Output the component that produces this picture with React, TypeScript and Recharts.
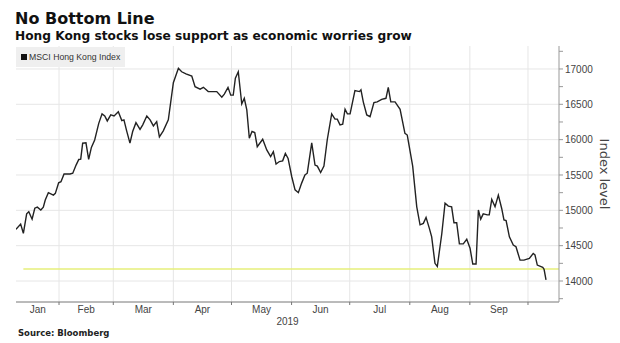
import { LineChart, Line, XAxis, YAxis, CartesianGrid, ReferenceLine } from "recharts";

// day of year 2019 (Jan 1 = 0) and MSCI Hong Kong Index closes
const days = [
  8.8, 11.2, 12.6, 14.3, 15.4, 17.1, 18.5, 19.8, 21.6, 22.9, 23.9, 25.5, 28.1, 29.1, 30.8,
  32.0, 33.6, 36.7, 38.1, 39.8, 41.2, 42.2, 43.2, 44.9, 46.3, 47.7, 49.4, 51.5, 53.2, 54.6,
  55.9, 57.7, 59.4, 61.6, 63.4, 64.5, 65.9, 67.6, 69.0, 70.7, 72.8, 74.2, 76.3, 78.0, 79.7,
  81.4, 82.8, 84.8, 87.4, 90.0, 92.6, 94.3, 96.5, 99.5, 101.2, 103.8, 105.5, 108.0, 112.4,
  115.0, 116.3, 118.2, 119.6, 120.9, 122.0, 123.5, 125.3, 126.6, 127.9, 129.2, 130.6, 132.0,
  133.3, 136.1, 138.2, 140.2, 141.6, 143.0, 144.7, 146.4, 147.8, 149.2, 151.1, 152.8, 154.5,
  156.2, 157.9, 159.1, 161.4, 163.1, 164.3, 166.0, 167.7, 169.4, 171.7, 173.4, 174.6, 176.0,
  177.4, 178.6, 179.8, 181.2, 183.7, 186.0, 186.8, 188.0, 189.8, 191.5, 193.5, 195.2, 197.5,
  199.7, 200.9, 202.2, 204.4, 207.0, 209.5, 210.7, 213.5, 215.6, 217.3, 219.0, 220.4, 222.1,
  223.3, 225.0, 226.2, 228.5, 230.2, 231.9, 233.6, 234.8, 236.2, 237.6, 239.6, 241.4, 243.1,
  244.5, 246.2, 247.4, 248.6, 249.9, 252.0, 253.0, 254.3, 256.0, 257.7, 259.4, 260.6, 261.7,
  263.4, 265.4, 266.8, 268.9, 270.9, 273.7, 275.7, 276.6, 277.8, 280.6, 281.3, 282.3,
];

const msciHK = [
  14730, 14805, 14675, 14950, 14980, 14875, 15030, 15045, 15005, 15045, 15145, 15250, 15215, 15240, 15390,
  15405, 15515, 15515, 15525, 15640, 15720, 15725, 15950, 15955, 15720, 15890, 15995, 16230, 16365, 16335,
  16265, 16350, 16335, 16395, 16270, 16280, 16125, 15950, 16115, 16240, 16145, 16210, 16335, 16280, 16195,
  16255, 16040, 16125, 16280, 16805, 17010, 16960, 16930, 16900, 16750, 16715, 16740, 16680, 16680,
  16600, 16645, 16740, 16630, 16630, 16870, 16960, 16505, 16585, 16420, 16020, 16115, 16100,
  15900, 16005, 15855, 15760, 15830, 15655, 15690, 15700, 15805, 15735, 15475, 15290, 15250,
  15385, 15500, 15525, 15955, 15640, 15625, 15535, 15625, 15995, 16365, 16290, 16290, 16210,
  16220, 16430, 16365, 16365, 16695, 16680, 16705, 16535, 16350, 16325, 16525, 16535, 16570,
  16585, 16740, 16535, 16535, 16430, 16090, 16065, 15625, 15050, 14795, 14815, 14900, 14745,
  14625, 14250, 14205, 14665, 15100, 15060, 15050, 14825, 14825, 14525, 14525, 14590, 14465,
  14240, 14240, 15005, 14875, 14950, 14935, 14935, 15155, 15050, 15215, 15030, 14865, 14855,
  14625, 14510, 14485, 14295, 14295, 14320, 14390, 14370, 14225, 14195, 14165, 14015,
];

const monthStarts = [31, 59, 90, 120, 151, 181, 212, 243, 273];
const monthMids = [20, 45, 74.5, 105, 135.5, 166, 196.5, 227.5, 258];
const monthNames = ["Jan", "Feb", "Mar", "Apr", "May", "Jun", "Jul", "Aug", "Sep"];
const yTicks = [13750, 14000, 14250, 14500, 14750, 15000, 15250, 15500, 15750, 16000, 16250, 16500, 16750, 17000, 17250];
const gridLevels = [14000, 14500, 15000, 15500, 16000, 16500, 17000];
const supportLevel = 14170;

const data = days.map((day, i) => ({ day, value: msciHK[i] }));

const tickFont = "'Liberation Sans', Arial, sans-serif";

function MonthTick(props: any) {
  const { x, y, payload } = props;
  const m = monthMids.indexOf(payload.value);
  if (m >= 0) {
    return (
      <text x={x} y={y + 11} textAnchor="middle" fontSize={10} fill="#444" fontFamily={tickFont}>
        {monthNames[m]}
      </text>
    );
  }
  return <line x1={x} x2={x} y1={y} y2={y + 3} stroke="#777" />;
}

function IndexLevelLabel(props: any) {
  const vb = props.viewBox;
  const cx = vb.x + vb.width - 5;
  const cy = vb.y + vb.height / 2;
  return (
    <text
      x={cx}
      y={cy}
      transform={`rotate(90 ${cx} ${cy})`}
      textAnchor="middle"
      dominantBaseline="central"
      fontSize={13}
      fill="#444"
      fontFamily="'DejaVu Sans', sans-serif"
    >
      Index level
    </text>
  );
}

export default function App() {
  return (
    <div style={{ position: "relative", width: 620, height: 343, margin: "-8px 0 0 -8px", background: "#fff" }}>
      <div
        style={{
          position: "absolute", left: 15, top: 10.5, fontFamily: "'DejaVu Sans', sans-serif",
          fontWeight: "bold", fontSize: 16, lineHeight: "16px", color: "#111",
        }}
      >
        No Bottom Line
      </div>
      <div
        style={{
          position: "absolute", left: 15, top: 29.8, fontFamily: "'DejaVu Sans', sans-serif",
          fontWeight: "bold", fontSize: 12.2, lineHeight: "12.2px", color: "#111", whiteSpace: "nowrap",
        }}
      >
        Hong Kong stocks lose support as economic worries grow
      </div>

      <LineChart
        width={620}
        height={343}
        data={data}
        margin={{ top: 46, right: 11, left: 16, bottom: 11 }}
      >
        <CartesianGrid
          stroke="#e6e6e6"
          horizontalValues={gridLevels}
          verticalValues={monthStarts}
        />
        <XAxis
          dataKey="day"
          type="number"
          domain={[8.8, 289]}
          allowDataOverflow
          ticks={[...monthStarts, ...monthMids]}
          interval={0}
          tick={<MonthTick />}
          tickLine={false}
          tickSize={0}
          tickMargin={0}
          height={30}
          stroke="#777"
          label={{ value: "2019", position: "insideBottom", offset: 7, fontSize: 10, fill: "#444", fontFamily: tickFont }}
        />
        <YAxis
          orientation="right"
          type="number"
          domain={[13703, 17325]}
          allowDataOverflow
          ticks={yTicks}
          interval={0}
          width={50}
          tickSize={4}
          tickMargin={2}
          stroke="#999"
          tickFormatter={(v: number) => (v % 500 === 0 ? String(v) : "")}
          tick={{ fontSize: 10, fill: "#444", fontFamily: tickFont }}
          label={{ content: <IndexLevelLabel /> }}
        />
        <ReferenceLine
          segment={[{ x: 12.6, y: supportLevel }, { x: 289, y: supportLevel }]}
          stroke="#e6ef7a"
          strokeWidth={1.5}
        />
        <Line
          type="linear"
          dataKey="value"
          stroke="#222"
          strokeWidth={1.4}
          dot={false}
          isAnimationActive={false}
        />
      </LineChart>

      <div
        style={{
          position: "absolute", left: 16, top: 47, width: 109, height: 20, background: "#efefef",
          fontFamily: tickFont, fontSize: 8.7, color: "#333", display: "flex", alignItems: "center",
        }}
      >
        <span style={{ display: "inline-block", width: 6, height: 6, background: "#111", marginLeft: 5, marginRight: 2 }} />
        MSCI Hong Kong Index
      </div>

      <div
        style={{
          position: "absolute", left: 18, top: 328.5, fontFamily: "'DejaVu Sans', sans-serif",
          fontWeight: "bold", fontSize: 8.5, lineHeight: "8.5px", color: "#222",
        }}
      >
        Source: Bloomberg
      </div>
    </div>
  );
}
